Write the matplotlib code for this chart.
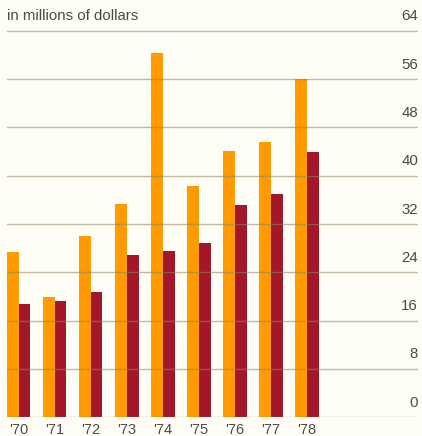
import matplotlib
matplotlib.use("Agg")
import matplotlib.pyplot as plt
import matplotlib.transforms as mtransforms
import numpy as np

years = ["'70", "'71", "'72", "'73", "'74", "'75", "'76", "'77", "'78"]
series_a = [27.3, 20.0, 30.0, 35.3, 60.3, 38.3, 44.1, 45.6, 56.0]
series_b = [18.7, 19.3, 20.7, 26.8, 27.6, 28.9, 35.1, 37.0, 43.9]
y_ticks = [0, 8, 16, 24, 32, 40, 48, 56, 64]
title = "in millions of dollars"

W, H = 422, 436
bg = "#fffef6"
orange = "#ff9a00"
red = "#a3172a"
grid_col = "#8c8762"
text_col = "#4a4a48"
font = ["Liberation Sans", "DejaVu Sans"]

fig = plt.figure(figsize=(W / 100, H / 100), dpi=100, facecolor=bg)

# axes geometry in pixels
left_px, right_px = 7, 418
bottom_px = 18.7
px_per_unit = 6.04
ymax = 66
ax = fig.add_axes([left_px / W, bottom_px / H, (right_px - left_px) / W,
                   ymax * px_per_unit / H])
ax.set_facecolor(bg)

pitch_px = 36.04
bw = 11.7 / pitch_px
x = np.arange(len(years))
ax.bar(x + bw / 2, series_a, width=bw, color=orange, zorder=2, linewidth=0)
ax.bar(x + 1.5 * bw, series_b, width=bw, color=red, zorder=2, linewidth=0)

ax.set_xlim(0, (right_px - left_px) / pitch_px)
ax.set_ylim(0, ymax)

for t in y_ticks:
    ax.axhline(t, color=grid_col, alpha=0.55, lw=1.0, zorder=3)

for s in ax.spines.values():
    s.set_visible(False)
ax.set_yticks([])
ax.set_xticks(x + bw)
ax.set_xticklabels(years, family=font, fontsize=10.5, color=text_col)
ax.tick_params(axis="x", length=0, pad=4)

# value labels on the right, sitting above each gridline
trans = mtransforms.blended_transform_factory(ax.transAxes, ax.transData)
for t in y_ticks:
    ax.text(1.0, t + 2.4, str(t), transform=trans, ha="right", va="center",
            family=font, fontsize=10.8, color=text_col)

fig.text(left_px / W, 1 - 16.5 / H, title, ha="left", va="center",
         family=font, fontsize=10.8, color=text_col)

fig.savefig("out.png", dpi=100, facecolor=bg)
